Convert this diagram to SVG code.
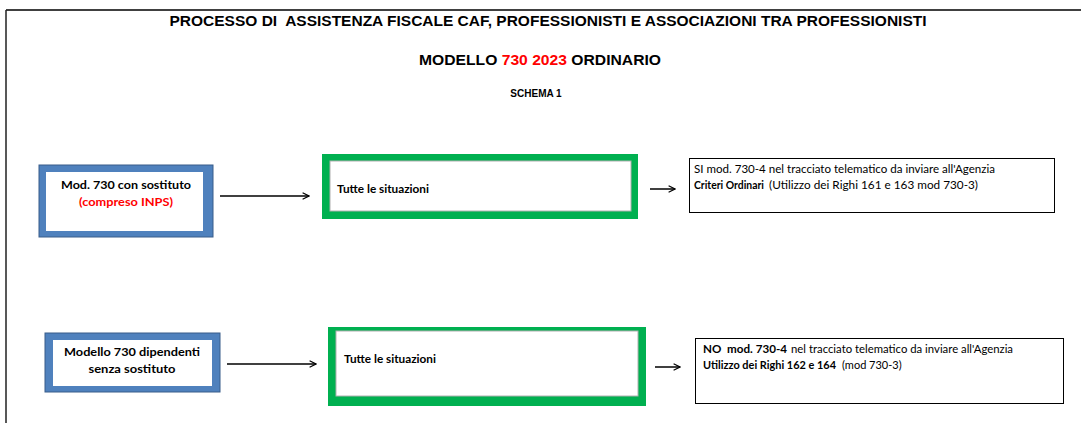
<svg xmlns="http://www.w3.org/2000/svg" width="1081" height="423" viewBox="0 0 1081 423">
<style>
.t{font-family:"Liberation Sans",Arial,sans-serif;font-weight:bold;fill:#000}
.c{font-family:Lato,"Open Sans",sans-serif;fill:#000}
.b{font-weight:bold}
.red{fill:#ff0000}
.blue{fill:#4f81bd;stroke:#385d8a;stroke-width:1}
.green{fill:#00b050}
.white{fill:#fff}
.inner{fill:#fff;stroke:#b0b0b0;stroke-width:1}
.box{fill:#fff;stroke:#000;stroke-width:1}
.conn{stroke:#000;stroke-width:1.5;fill:none}
</style>
<defs>
<marker id="ah" viewBox="0 0 10 10" refX="9" refY="5" markerWidth="8" markerHeight="8" orient="auto" markerUnits="userSpaceOnUse">
<path d="M1,1 L9,5 L1,9" fill="none" stroke="#000" stroke-width="1.5"/>
</marker>
</defs>
<rect width="1081" height="423" fill="#fff"/>
<g id="frame">
<line x1="6" y1="10" x2="1081" y2="10" stroke="#404040" stroke-width="2"/>
<line x1="6" y1="10" x2="6" y2="423" stroke="#202020" stroke-width="1.5"/>
</g>
<g id="titles">
<text class="t" x="548" y="26" font-size="14" text-anchor="middle" textLength="757" lengthAdjust="spacingAndGlyphs" xml:space="preserve">PROCESSO DI  ASSISTENZA FISCALE CAF, PROFESSIONISTI E ASSOCIAZIONI TRA PROFESSIONISTI</text>
<text class="t" x="540" y="65" font-size="15" text-anchor="middle" textLength="242" lengthAdjust="spacingAndGlyphs">MODELLO <tspan class="red">730 2023</tspan> ORDINARIO</text>
<text class="t" x="536" y="97" font-size="10" text-anchor="middle">SCHEMA 1</text>
</g>
<g id="node-mod730-sostituto">
<rect class="blue" x="39" y="165" width="174" height="72"/>
<rect class="white" x="46" y="172" width="157" height="59"/>
<text class="c b" x="126" y="189" font-size="12" text-anchor="middle" textLength="130" lengthAdjust="spacingAndGlyphs">Mod. 730 con sostituto</text>
<text class="c b red" x="126" y="206" font-size="12" text-anchor="middle" textLength="94" lengthAdjust="spacingAndGlyphs">(compreso INPS)</text>
</g>
<g id="node-tutte-1">
<rect class="green" x="322" y="154" width="316" height="65"/>
<rect class="inner" x="330" y="161" width="301" height="50"/>
<text class="c b" x="337" y="193" font-size="11" textLength="92" lengthAdjust="spacingAndGlyphs">Tutte le situazioni</text>
</g>
<g id="node-si-730-4">
<rect class="box" x="689.5" y="158.5" width="365" height="54"/>
<text class="c" x="694" y="173" font-size="11" textLength="301" lengthAdjust="spacingAndGlyphs">SI mod. 730-4 nel tracciato telematico da inviare all'Agenzia</text>
<text class="c b" x="694" y="189" font-size="11" textLength="70" lengthAdjust="spacingAndGlyphs">Criteri Ordinari</text>
<text class="c" x="769" y="189" font-size="11" textLength="209" lengthAdjust="spacingAndGlyphs">(Utilizzo dei Righi 161 e 163 mod 730-3)</text>
</g>
<g id="node-mod730-senza">
<rect class="blue" x="45" y="333" width="175" height="59"/>
<rect class="white" x="53" y="340" width="159" height="46"/>
<text class="c b" x="132" y="356" font-size="12" text-anchor="middle" textLength="136" lengthAdjust="spacingAndGlyphs">Modello 730 dipendenti</text>
<text class="c b" x="132" y="373" font-size="12" text-anchor="middle" textLength="87" lengthAdjust="spacingAndGlyphs">senza sostituto</text>
</g>
<g id="node-tutte-2">
<rect class="green" x="328" y="327" width="318" height="79"/>
<rect class="inner" x="336" y="331" width="302" height="65"/>
<text class="c b" x="344" y="363" font-size="11" textLength="92" lengthAdjust="spacingAndGlyphs">Tutte le situazioni</text>
</g>
<g id="node-no-730-4">
<rect class="box" x="695.5" y="338.5" width="368" height="65"/>
<text class="c b" x="703" y="353" font-size="11" textLength="84" lengthAdjust="spacingAndGlyphs" xml:space="preserve">NO  mod. 730-4</text>
<text class="c" x="791" y="353" font-size="11" textLength="222" lengthAdjust="spacingAndGlyphs">nel tracciato telematico da inviare all'Agenzia</text>
<text class="c b" x="703" y="369" font-size="11" textLength="133" lengthAdjust="spacingAndGlyphs">Utilizzo dei Righi 162 e 164</text>
<text class="c" x="842" y="369" font-size="11">(mod 730-3)</text>
</g>
<g id="connectors">
<line class="conn" x1="220" y1="196" x2="309" y2="196" marker-end="url(#ah)"/>
<line class="conn" x1="650" y1="189" x2="675" y2="189" marker-end="url(#ah)"/>
<line class="conn" x1="227" y1="364" x2="316" y2="364" marker-end="url(#ah)"/>
<line class="conn" x1="655" y1="367" x2="680" y2="367" marker-end="url(#ah)"/>
</g>
</svg>
